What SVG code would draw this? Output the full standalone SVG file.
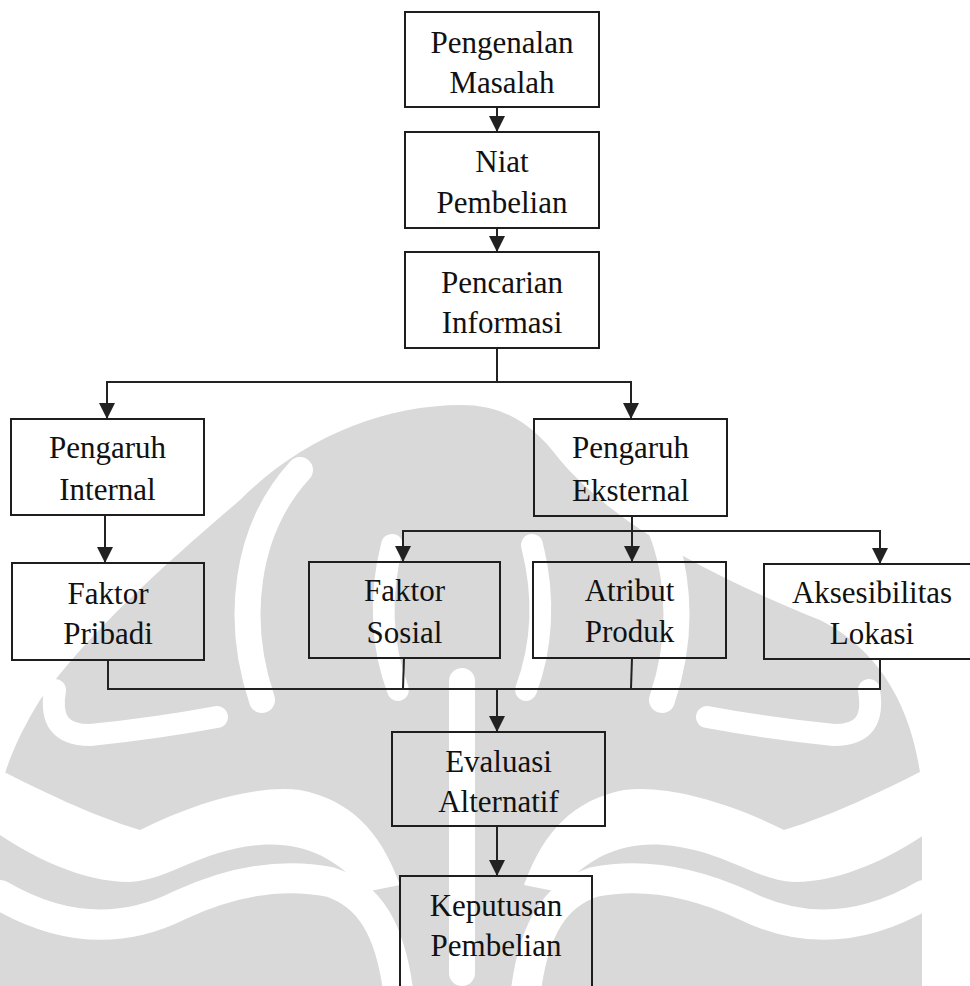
<svg xmlns="http://www.w3.org/2000/svg" width="970" height="986" viewBox="0 0 970 986">
<style>
.box{fill:none;stroke:#1e1e1e;stroke-width:2}
.t{font-family:"Liberation Serif","Times New Roman",serif;font-size:31px;fill:#111;text-anchor:middle}
.c{fill:none;stroke:#222;stroke-width:2}
.a{marker-end:url(#arr)}
.wg{fill:#d9d9d9}
.wc{fill:none;stroke:#fff;stroke-linecap:round}
</style>
<defs>
<marker id="arr" markerUnits="userSpaceOnUse" markerWidth="16" markerHeight="16" viewBox="0 0 16 16" refX="16" refY="8" orient="auto">
<path d="M0,0 L16,8 L0,16 z" fill="#222"/>
</marker>
<g id="wmcuts">
<path class="wc" stroke-width="22" d="M55,690 C50,720 60,735 90,735 C140,730 190,722 217,717"/>
<path fill="#fff" d="M0,770 C40,790 90,815 140,830 C200,800 260,785 300,790 C350,800 380,830 400,885 L365,892 C335,855 300,842 260,845 C200,850 170,880 130,882 C80,882 30,855 0,835 Z"/>
<path class="wc" stroke-width="30" d="M0,895 C60,930 120,935 180,905 C230,882 280,872 330,882 C370,895 390,930 398,990"/>
<path class="wc" stroke-width="26" d="M300,470 C245,530 235,620 262,700"/>
<path class="wc" stroke-width="22" d="M392,545 C378,600 383,650 398,690"/>
</g>
</defs>
<rect width="970" height="986" fill="#fff"/>
<g id="watermark">
<path class="wg" d="M462,405 C380,405 300,440 240,500 C170,560 90,630 40,700 C15,740 0,780 0,800 L0,986 L462,986 Z"/>
<path class="wg" d="M461,405 C500,405 530,420 560,460 C620,530 720,580 820,620 C880,650 915,710 922,790 L922,986 L461,986 Z"/>
<use href="#wmcuts"/>
<use href="#wmcuts" transform="translate(924,0) scale(-1,1)"/>
<rect x="449" y="668" width="26" height="318" rx="13" fill="#fff"/>
</g>
<g id="connectors">
<line class="c a" x1="497" y1="107" x2="497" y2="132"/>
<line class="c a" x1="497" y1="228" x2="497" y2="252"/>
<polyline class="c" points="497,348 497,382"/>
<polyline class="c a" points="497,382 107,382 107,419"/>
<polyline class="c a" points="497,382 631,382 631,419"/>
<line class="c a" x1="105" y1="515" x2="105" y2="563"/>
<line class="c a" x1="632" y1="516" x2="632" y2="562"/>
<polyline class="c a" points="632,531 403,531 403,562"/>
<polyline class="c a" points="632,531 880,531 880,564"/>
<polyline class="c" points="108,660 108,689 880,689 880,659"/>
<line class="c" x1="404" y1="658" x2="403" y2="688"/>
<line class="c" x1="632" y1="658" x2="631" y2="688"/>
<line class="c a" x1="497" y1="688" x2="497" y2="732"/>
<line class="c a" x1="497" y1="826" x2="497" y2="876"/>
</g>
<g id="pengenalan-masalah"><rect class="box" x="405" y="12" width="194" height="95"/><text class="t" x="502" y="53">Pengenalan</text><text class="t" x="502" y="93">Masalah</text></g>
<g id="niat-pembelian"><rect class="box" x="405" y="132" width="194" height="96"/><text class="t" x="502" y="172">Niat</text><text class="t" x="502" y="213">Pembelian</text></g>
<g id="pencarian-informasi"><rect class="box" x="405" y="252" width="194" height="96"/><text class="t" x="502" y="293">Pencarian</text><text class="t" x="502" y="333">Informasi</text></g>
<g id="pengaruh-internal"><rect class="box" x="11" y="419" width="193" height="96"/><text class="t" x="107.5" y="458">Pengaruh</text><text class="t" x="107.5" y="500">Internal</text></g>
<g id="pengaruh-eksternal"><rect class="box" x="534" y="419" width="193" height="97"/><text class="t" x="630.5" y="458">Pengaruh</text><text class="t" x="630.5" y="501">Eksternal</text></g>
<g id="faktor-pribadi"><rect class="box" x="12" y="563" width="192" height="97"/><text class="t" x="108" y="604">Faktor</text><text class="t" x="108" y="644">Pribadi</text></g>
<g id="faktor-sosial"><rect class="box" x="309" y="562" width="191" height="96"/><text class="t" x="404.5" y="601">Faktor</text><text class="t" x="404.5" y="643">Sosial</text></g>
<g id="atribut-produk"><rect class="box" x="533" y="562" width="193" height="96"/><text class="t" x="629.5" y="601">Atribut</text><text class="t" x="629.5" y="642">Produk</text></g>
<g id="aksesibilitas-lokasi"><rect class="box" x="764" y="564" width="216" height="95"/><text class="t" x="872" y="603">Aksesibilitas</text><text class="t" x="872" y="644">Lokasi</text></g>
<g id="evaluasi-alternatif"><rect class="box" x="392" y="732" width="213" height="94"/><text class="t" x="498.5" y="772">Evaluasi</text><text class="t" x="498.5" y="812">Alternatif</text></g>
<g id="keputusan-pembelian"><rect class="box" x="400" y="876" width="192" height="130"/><text class="t" x="496" y="916">Keputusan</text><text class="t" x="496" y="956">Pembelian</text></g>
</svg>
